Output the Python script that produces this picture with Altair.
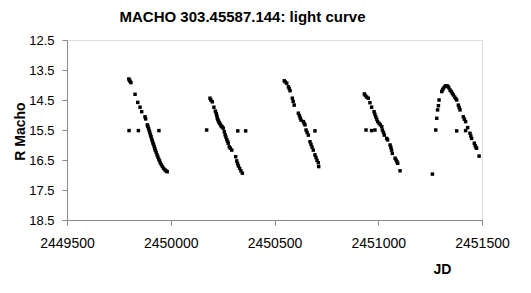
import altair as alt
import pandas as pd

# Cycle data: Julian date and R magnitude
jd_c1 = [2449798, 2449801, 2449804, 2449808, 2449828, 2449841, 2449852, 2449860, 2449876, 2449879,
         2449887, 2449890, 2449893, 2449896, 2449899, 2449902, 2449905, 2449908, 2449911, 2449914,
         2449917, 2449920, 2449923, 2449926, 2449930, 2449934, 2449938, 2449942, 2449946, 2449950,
         2449955, 2449960, 2449966, 2449972, 2449978, 2449983,
         2449799, 2449844, 2449943]
mag_c1 = [13.80, 13.84, 13.88, 13.92, 14.31, 14.58, 14.74, 14.89, 15.06, 15.13,
          15.33, 15.38, 15.45, 15.52, 15.58, 15.66, 15.72, 15.80, 15.86, 15.93,
          15.98, 16.05, 16.12, 16.18, 16.25, 16.33, 16.40, 16.47, 16.53, 16.60,
          16.66, 16.72, 16.78, 16.83, 16.87, 16.89,
          15.52, 15.52, 15.52]

jd_c2 = [2450189, 2450193, 2450200, 2450208, 2450215, 2450219, 2450222, 2450224, 2450227, 2450230,
         2450233, 2450236, 2450240, 2450244, 2450248, 2450253, 2450258, 2450262, 2450266, 2450270,
         2450274, 2450277, 2450282, 2450287, 2450294, 2450313, 2450318, 2450322, 2450326, 2450332,
         2450338, 2450345,
         2450173, 2450323, 2450361]
mag_c2 = [14.44, 14.50, 14.56, 14.74, 14.87, 14.95, 15.02, 15.10, 15.15, 15.20,
          15.25, 15.28, 15.33, 15.37, 15.40, 15.44, 15.56, 15.66, 15.74, 15.82,
          15.88, 15.94, 16.06, 16.11, 16.17, 16.39, 16.53, 16.62, 16.70, 16.78,
          16.86, 16.94,
          15.50, 15.53, 15.53]

jd_c3 = [2450547, 2450552, 2450559, 2450567, 2450571, 2450575, 2450586, 2450590, 2450595, 2450615,
         2450620, 2450624, 2450628, 2450639, 2450643, 2450647, 2450652, 2450657, 2450663, 2450671,
         2450676, 2450681, 2450687, 2450695, 2450700, 2450705, 2450711, 2450713,
         2450695]
mag_c3 = [13.86, 13.90, 13.94, 14.06, 14.12, 14.19, 14.44, 14.55, 14.67, 14.94,
          15.02, 15.10, 15.17, 15.22, 15.28, 15.33, 15.50, 15.58, 15.67, 15.89,
          15.98, 16.07, 16.17, 16.33, 16.42, 16.51, 16.59, 16.72,
          15.53]

jd_c4 = [2450933, 2450938, 2450944, 2450952, 2450960, 2450968, 2450980, 2450984, 2450988, 2450993,
         2450997, 2451004, 2451010, 2451017, 2451020, 2451025, 2451029, 2451041, 2451045, 2451057,
         2451061, 2451064, 2451068, 2451081, 2451086, 2451090, 2451094, 2451105,
         2450941, 2450968, 2450984]
mag_c4 = [14.30, 14.35, 14.40, 14.44, 14.59, 14.74, 14.89, 14.98, 15.06, 15.14,
          15.22, 15.28, 15.33, 15.39, 15.50, 15.58, 15.67, 15.78, 15.83, 16.00,
          16.08, 16.17, 16.28, 16.44, 16.50, 16.56, 16.61, 16.86,
          15.50, 15.52, 15.50]

jd_c5 = [2451261, 2451277, 2451282, 2451286, 2451290, 2451293, 2451306, 2451310, 2451314, 2451320,
         2451325, 2451330, 2451335, 2451340, 2451346, 2451352, 2451357, 2451362, 2451368, 2451373,
         2451378, 2451386, 2451390, 2451394, 2451410, 2451415, 2451421, 2451431, 2451442, 2451446,
         2451450, 2451463, 2451467, 2451471, 2451474, 2451486,
         2451378, 2451421]
mag_c5 = [16.97, 15.50, 15.11, 14.83, 14.69, 14.50, 14.22, 14.16, 14.11, 14.06,
          14.03, 14.03, 14.04, 14.09, 14.17, 14.22, 14.28, 14.33, 14.40, 14.45,
          14.50, 14.67, 14.75, 14.83, 15.06, 15.14, 15.22, 15.42, 15.61, 15.70,
          15.78, 15.94, 16.02, 16.08, 16.11, 16.37,
          15.53, 15.52]

x_ticks = [2449500, 2450000, 2450500, 2451000, 2451500]
y_ticks = [12.5, 13.5, 14.5, 15.5, 16.5, 17.5, 18.5]

df = pd.DataFrame({
    "JD": jd_c1 + jd_c2 + jd_c3 + jd_c4 + jd_c5,
    "mag": mag_c1 + mag_c2 + mag_c3 + mag_c4 + mag_c5,
})

FONT = "Liberation Sans"

chart = alt.Chart(df).mark_square(size=12, color="black", opacity=1).encode(
    x=alt.X("JD:Q",
            scale=alt.Scale(domain=[2449500, 2451500], nice=False, zero=False),
            axis=alt.Axis(values=x_ticks, format="d", title="JD", grid=False,
                          tickSize=5, labelPadding=11, labelFontSize=14,
                          titleFontSize=14, titleFontWeight="bold",
                          titleX=375, titleY=53, titleAlign="center",
                          titleBaseline="alphabetic", labelFlush=False)),
    y=alt.Y("mag:Q",
            scale=alt.Scale(domain=[12.5, 18.5], reverse=True, nice=False, zero=False),
            axis=alt.Axis(values=y_ticks, format=".1f", title="R Macho", grid=False,
                          tickSize=5, labelPadding=8, labelFontSize=13,
                          titleFontSize=14, titleFontWeight="bold",
                          titleX=-43, titleY=91, titleAlign="center",
                          titleBaseline="alphabetic", labelFlush=False)),
).properties(
    width=415,
    height=180,
    title=alt.TitleParams("MACHO 303.45587.144: light curve", fontSize=15, fontWeight="bold",
                          font=FONT, color="black", anchor="middle", dx=-32, offset=9),
    autosize=alt.AutoSizeParams(type="none"),
    padding={"left": 67, "top": 40, "right": 49, "bottom": 73},
).configure_view(
    stroke="black", strokeWidth=1
).configure_axis(
    domainColor="black", tickColor="black", labelColor="black", titleColor="black",
    labelFont=FONT, titleFont=FONT, domainWidth=1, tickWidth=1
).configure(background="white")

chart.save("out.html", embed_options={"renderer": "svg", "actions": False})
